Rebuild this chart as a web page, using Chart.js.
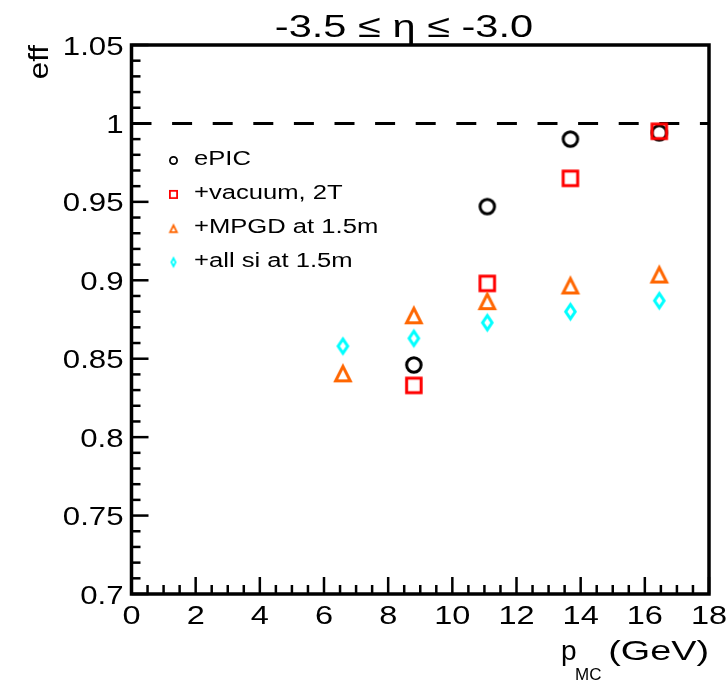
<!DOCTYPE html>
<html>
<head>
<meta charset="utf-8">
<script src="https://cdn.jsdelivr.net/npm/chart.js@4/dist/chart.umd.min.js"></script>
<style>
  html, body { margin: 0; padding: 0; background: #ffffff; }
  #c { display: block; }
</style>
</head>
<body>
<canvas id="c" width="728" height="682"></canvas>
<script>
// Reconstruction efficiency vs generated momentum, -3.5 <= eta <= -3.0
const momenta    = [6.59, 8.80, 11.09, 13.68, 16.45];
const effEPIC    = [null, 0.846, 0.947, 0.990, 0.994];
const effVacuum  = [null, 0.833, 0.898, 0.965, 0.995];
const effMPGD    = [0.841, 0.878, 0.887, 0.897, 0.904];
const effAllSi   = [0.858, 0.863, 0.873, 0.880, 0.887];
const seriesLabels = ['ePIC', '+vacuum, 2T', '+MPGD at 1.5m', '+all si at 1.5m'];
const seriesColors = ['#000000', '#ff0000', '#ff6600', '#00ffff'];
const seriesShapes = ['circle', 'square', 'triangle', 'diamond'];
const unityX = [0, 18];
const unityY = [1, 1];
const xTickValues = [0, 2, 4, 6, 8, 10, 12, 14, 16, 18];
const xTickLabels = ['0', '2', '4', '6', '8', '10', '12', '14', '16', '18'];
const yTickValues = [0.7, 0.75, 0.8, 0.85, 0.9, 0.95, 1.0, 1.05];
const yTickLabels = ['0.7', '0.75', '0.8', '0.85', '0.9', '0.95', '1', '1.05'];
const xMinorStep = 0.5;
const yMinorStep = 0.01;

const FONT = '"Liberation Sans", Arial, Helvetica, sans-serif';

// open marker sprites used as point styles
function makeMarker(shape, color, w, h, lw) {
  const cv = document.createElement('canvas');
  cv.width = Math.ceil(w + 4);
  cv.height = Math.ceil(h + 4);
  const g = cv.getContext('2d');
  const cx = cv.width / 2, cy = cv.height / 2;
  g.strokeStyle = color;
  g.lineWidth = lw;
  g.lineJoin = 'miter';
  g.beginPath();
  if (shape === 'circle') {
    g.arc(cx, cy, w / 2 - lw / 2, 0, Math.PI * 2);
  } else if (shape === 'square') {
    g.rect(cx - w / 2 + lw / 2, cy - h / 2 + lw / 2, w - lw, h - lw);
  } else if (shape === 'triangle') {
    g.moveTo(cx - w / 2 + lw * 0.9, cy + h / 2 - lw / 2);
    g.lineTo(cx + w / 2 - lw * 0.9, cy + h / 2 - lw / 2);
    g.lineTo(cx, cy - h / 2 + lw);
    g.closePath();
  } else if (shape === 'diamond') {
    g.moveTo(cx, cy - h / 2 + lw * 0.9);
    g.lineTo(cx + w / 2 - lw / 2, cy);
    g.lineTo(cx, cy + h / 2 - lw * 0.9);
    g.lineTo(cx - w / 2 + lw / 2, cy);
    g.closePath();
  }
  g.stroke();
  return cv;
}

const plotSizes = {
  circle:   [17.5, 17.5, 3],
  square:   [17.5, 17.5, 3],
  triangle: [20, 19, 3],
  diamond:  [12.5, 19.5, 3]
};
const keySizes = {
  circle:   [9, 9, 1.8],
  square:   [9, 9, 1.8],
  triangle: [10, 9.5, 1.8],
  diamond:  [6, 11.5, 1.8]
};

const plotMarkers = seriesShapes.map((s, i) => makeMarker(s, seriesColors[i], ...plotSizes[s]));
const keyMarkers  = seriesShapes.map((s, i) => makeMarker(s, seriesColors[i], ...keySizes[s]));

function points(ys) {
  const out = [];
  momenta.forEach((x, i) => { if (ys[i] !== null) out.push({ x: x, y: ys[i] }); });
  return out;
}

const seriesValues = [effEPIC, effVacuum, effMPGD, effAllSi];

const datasets = seriesValues.map((ys, i) => ({
  label: seriesLabels[i],
  data: points(ys),
  pointStyle: plotMarkers[i],
  pointRadius: 9,
  showLine: false,
  order: 4 - i
}));

datasets.push({
  label: 'unity',
  data: unityX.map((x, i) => ({ x: x, y: unityY[i] })),
  showLine: true,
  borderColor: '#000000',
  borderWidth: 3,
  borderDash: [20, 20.6],
  pointRadius: 0,
  fill: false,
  order: 10
});

function stretchText(ctx, str, x, y, size, align, sx) {
  ctx.save();
  ctx.font = size + 'px ' + FONT;
  ctx.textAlign = align;
  ctx.textBaseline = 'alphabetic';
  ctx.fillStyle = '#000000';
  ctx.translate(x, y);
  ctx.scale(sx, 1);
  ctx.fillText(str, 0, 0);
  ctx.restore();
}

// frame, inward ticks, tick labels, titles and key
const decorations = {
  id: 'decorations',
  afterDraw(chart) {
    const ctx = chart.ctx;
    const area = chart.chartArea;
    const xs = chart.scales.x, ys = chart.scales.y;

    ctx.save();
    ctx.setLineDash([]);
    ctx.lineCap = 'butt';
    ctx.strokeStyle = '#000000';

    // ticks
    ctx.lineWidth = 2.5;
    const nX = Math.round((xs.max - xs.min) / xMinorStep);
    for (let k = 0; k <= nX; k++) {
      const v = xs.min + k * xMinorStep;
      const px = xs.getPixelForValue(v);
      const len = (k % 4 === 0) ? 17 : 9;
      ctx.beginPath();
      ctx.moveTo(px, area.bottom);
      ctx.lineTo(px, area.bottom - len);
      ctx.stroke();
    }
    const nY = Math.round((ys.max - ys.min) / yMinorStep);
    for (let k = 0; k <= nY; k++) {
      const v = ys.min + k * yMinorStep;
      const py = ys.getPixelForValue(v);
      const len = (k % 5 === 0) ? 17 : 9;
      ctx.beginPath();
      ctx.moveTo(area.left, py);
      ctx.lineTo(area.left + len, py);
      ctx.stroke();
    }

    // frame
    ctx.lineWidth = 3.5;
    ctx.strokeRect(area.left, area.top, area.right - area.left, area.bottom - area.top);
    ctx.restore();

    // tick labels
    xTickValues.forEach((v, i) => {
      stretchText(ctx, xTickLabels[i], xs.getPixelForValue(v), area.bottom + 30, 25, 'center', 1.3);
    });
    yTickValues.forEach((v, i) => {
      stretchText(ctx, yTickLabels[i], area.left - 8, ys.getPixelForValue(v) + 9.5, 26, 'right', 1.2);
    });

    // title
    stretchText(ctx, '-3.5 \u2264 \u03B7 \u2264 -3.0', 404, 37, 32, 'center', 1.3);

    // x-axis title
    stretchText(ctx, '(GeV)', area.right, 660, 28, 'right', 1.35);
    stretchText(ctx, 'MC', 575, 680, 17, 'left', 1.0);
    stretchText(ctx, 'p', 561, 660, 28, 'left', 1.0);

    // y-axis title
    ctx.save();
    ctx.translate(48, 45);
    ctx.rotate(-Math.PI / 2);
    ctx.scale(1.12, 1);
    ctx.font = '28px ' + FONT;
    ctx.textAlign = 'right';
    ctx.fillStyle = '#000000';
    ctx.fillText('eff', 0, 0);
    ctx.restore();

    // key
    seriesLabels.forEach((lab, i) => {
      const base = 165 + i * 33.9;
      const m = keyMarkers[i];
      ctx.drawImage(m, 173.5 - m.width / 2, base - 4.5 - m.height / 2);
      stretchText(ctx, lab, 194, base, 20, 'left', 1.28);
    });
  }
};

new Chart(document.getElementById('c'), {
  type: 'scatter',
  data: { datasets: datasets },
  options: {
    responsive: false,
    animation: false,
    devicePixelRatio: 1,
    layout: { padding: { top: 45, right: 19, left: 0, bottom: 0 } },
    plugins: {
      legend: { display: false },
      tooltip: { enabled: false },
      title: { display: false }
    },
    scales: {
      x: {
        type: 'linear',
        min: 0,
        max: 18,
        grid: { display: false },
        border: { display: false },
        ticks: { display: false },
        afterFit(scale) { scale.height = 88; }
      },
      y: {
        type: 'linear',
        min: 0.7,
        max: 1.05,
        grid: { display: false },
        border: { display: false },
        ticks: { display: false },
        afterFit(scale) { scale.width = 131.5; }
      }
    }
  },
  plugins: [decorations]
});
</script>
</body>
</html>
